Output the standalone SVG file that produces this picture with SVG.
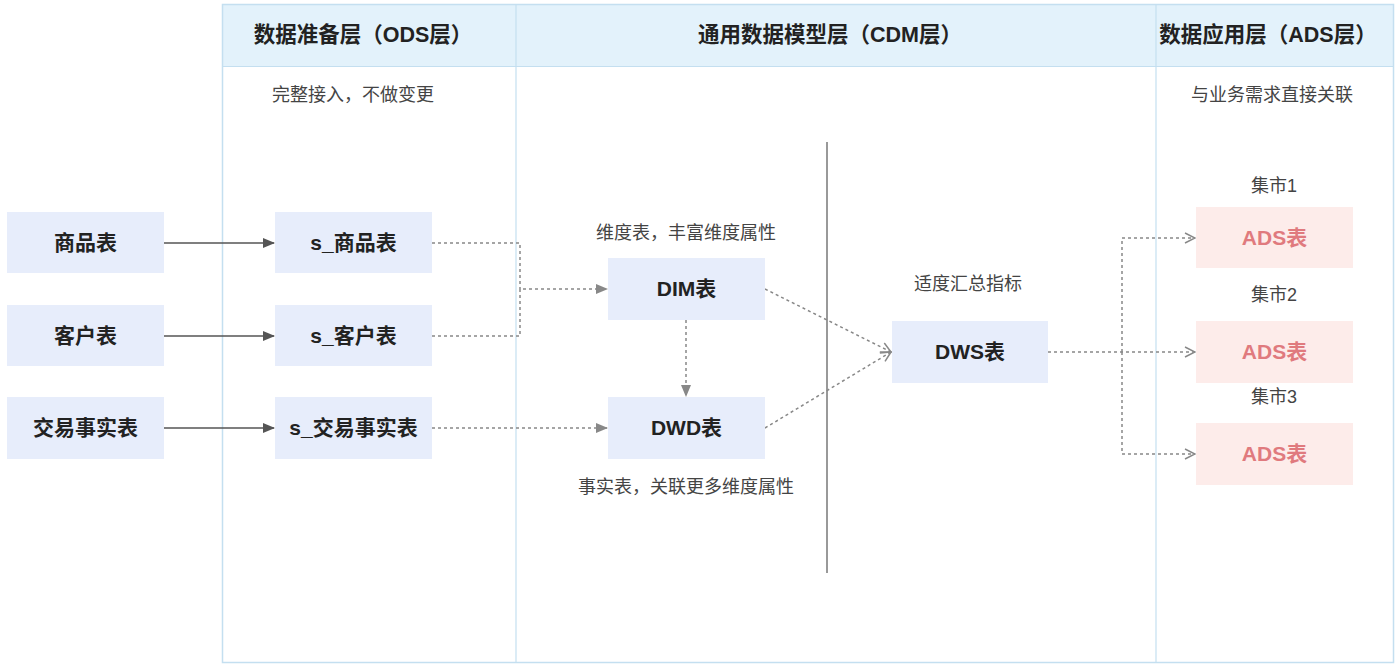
<svg xmlns="http://www.w3.org/2000/svg" width="1400" height="667" viewBox="0 0 1400 667">
<defs>
<style>
.hdr{font-family:"Liberation Sans","Noto Sans CJK SC",sans-serif;font-size:21.5px;font-weight:bold;fill:#222;text-anchor:middle}
.lbl{font-family:"Liberation Sans","Noto Sans CJK SC",sans-serif;font-size:18px;fill:#444;text-anchor:middle}
.nt{font-family:"Liberation Sans","Noto Sans CJK SC",sans-serif;font-size:21px;font-weight:bold;fill:#222;text-anchor:middle}
.at{font-family:"Liberation Sans","Noto Sans CJK SC",sans-serif;font-size:21px;font-weight:bold;fill:#e07a7e;text-anchor:middle}
.box{fill:#e7edfb}
.abox{fill:#fdecea}
.solid{stroke:#555;stroke-width:1.5;fill:none}
.dot{stroke:#888;stroke-width:1.5;stroke-dasharray:3 3;fill:none}
</style>
<marker id="af" markerWidth="12" markerHeight="10" refX="11" refY="5" orient="auto" markerUnits="userSpaceOnUse"><path d="M0,0 L12,5 L0,10 z" fill="#555"/></marker>
<marker id="ag" markerWidth="12" markerHeight="10" refX="11" refY="5" orient="auto" markerUnits="userSpaceOnUse"><path d="M0,0 L12,5 L0,10 z" fill="#888"/></marker>
<marker id="ao" markerWidth="12" markerHeight="12" refX="11" refY="6" orient="auto" markerUnits="userSpaceOnUse"><path d="M1,1 L11,6 L1,11" fill="none" stroke="#888" stroke-width="1.5"/></marker>
</defs>
<rect width="1400" height="667" fill="#fff"/>
<g id="lanes">
<rect x="222.5" y="4.5" width="1171" height="62" fill="#e3f2fb"/>
<rect x="222.5" y="4.5" width="1171" height="658" fill="none" stroke="#c4dff0" stroke-width="1.5"/>
<line x1="222.5" y1="66.5" x2="1393.5" y2="66.5" stroke="#c4dff0" stroke-width="1.2"/>
<line x1="516" y1="4.5" x2="516" y2="662.5" stroke="#c4dff0" stroke-width="1.2"/>
<line x1="1156" y1="4.5" x2="1156" y2="662.5" stroke="#c4dff0" stroke-width="1.2"/>
<text class="hdr" x="363" y="42">数据准备层（ODS层）</text>
<text class="hdr" x="830" y="42">通用数据模型层（CDM层）</text>
<text class="hdr" x="1268" y="42">数据应用层（ADS层）</text>
<text class="lbl" x="353" y="101">完整接入，不做变更</text>
<text class="lbl" x="1272" y="101">与业务需求直接关联</text>
</g>
<line id="divider" x1="827" y1="142" x2="827" y2="573" stroke="#777" stroke-width="1.5"/>
<g id="labels">
<text class="lbl" x="686" y="239">维度表，丰富维度属性</text>
<text class="lbl" x="686" y="493">事实表，关联更多维度属性</text>
<text class="lbl" x="968" y="290">适度汇总指标</text>
<text class="lbl" x="1274" y="192">集市1</text>
<text class="lbl" x="1274" y="301">集市2</text>
<text class="lbl" x="1274" y="403">集市3</text>
</g>
<g id="connectors">
<line class="solid" x1="164" y1="243" x2="274" y2="243" marker-end="url(#af)"/>
<line class="solid" x1="164" y1="336" x2="274" y2="336" marker-end="url(#af)"/>
<line class="solid" x1="164" y1="428" x2="274" y2="428" marker-end="url(#af)"/>
<path class="dot" d="M432,243 H520 V289"/>
<path class="dot" d="M432,336 H520 V289 H607" marker-end="url(#ag)"/>
<line class="dot" x1="432" y1="428" x2="607" y2="428" marker-end="url(#ag)"/>
<line class="dot" x1="686" y1="320" x2="686" y2="396" marker-end="url(#ag)"/>
<line class="dot" x1="765" y1="289" x2="891" y2="352" marker-end="url(#ao)"/>
<line class="dot" x1="765" y1="428" x2="891" y2="352" marker-end="url(#ao)"/>
<line class="dot" x1="1048" y1="352" x2="1195" y2="352" marker-end="url(#ao)"/>
<path class="dot" d="M1122,352 V238 H1195" marker-end="url(#ao)"/>
<path class="dot" d="M1122,352 V454 H1195" marker-end="url(#ao)"/>
</g>
<g id="n-goods"><rect class="box" x="7" y="212" width="157" height="61"/><text class="nt" x="85.5" y="250">商品表</text></g>
<g id="n-cust"><rect class="box" x="7" y="305" width="157" height="61"/><text class="nt" x="85.5" y="343">客户表</text></g>
<g id="n-trade"><rect class="box" x="7" y="397" width="157" height="62"/><text class="nt" x="85.5" y="435">交易事实表</text></g>
<g id="n-s-goods"><rect class="box" x="275" y="212" width="157" height="61"/><text class="nt" x="353.5" y="250">s_商品表</text></g>
<g id="n-s-cust"><rect class="box" x="275" y="305" width="157" height="61"/><text class="nt" x="353.5" y="343">s_客户表</text></g>
<g id="n-s-trade"><rect class="box" x="275" y="397" width="157" height="62"/><text class="nt" x="353.5" y="435">s_交易事实表</text></g>
<g id="n-dim"><rect class="box" x="608" y="258" width="157" height="62"/><text class="nt" x="686.5" y="296">DIM表</text></g>
<g id="n-dwd"><rect class="box" x="608" y="397" width="157" height="62"/><text class="nt" x="686.5" y="435">DWD表</text></g>
<g id="n-dws"><rect class="box" x="892" y="321" width="156" height="62"/><text class="nt" x="970" y="359">DWS表</text></g>
<g id="n-ads1"><rect class="abox" x="1196" y="207" width="157" height="61"/><text class="at" x="1274.5" y="245">ADS表</text></g>
<g id="n-ads2"><rect class="abox" x="1196" y="321" width="157" height="62"/><text class="at" x="1274.5" y="359">ADS表</text></g>
<g id="n-ads3"><rect class="abox" x="1196" y="423" width="157" height="62"/><text class="at" x="1274.5" y="461">ADS表</text></g>
</svg>
